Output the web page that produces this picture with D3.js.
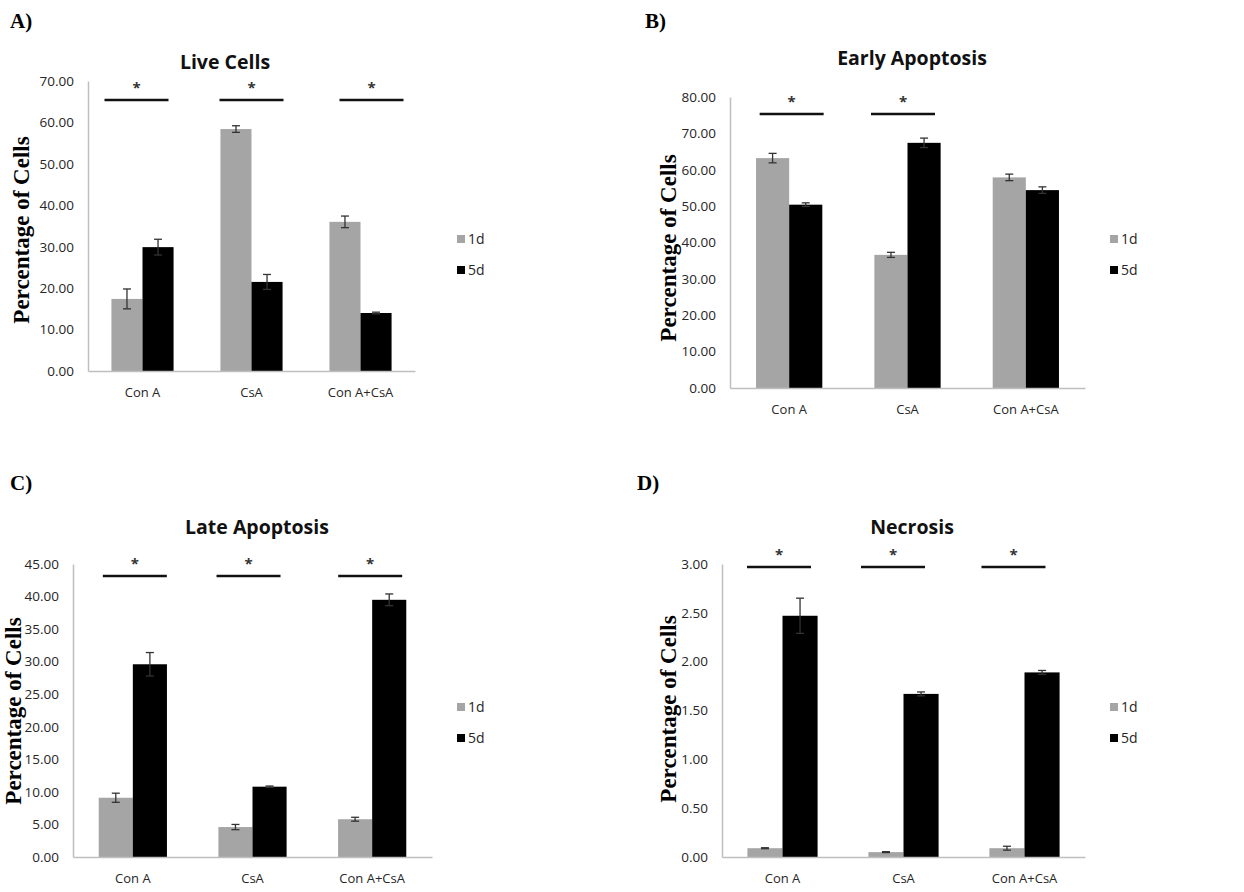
<!DOCTYPE html>
<html>
<head>
<meta charset="utf-8">
<script src="https://cdn.jsdelivr.net/npm/d3@7"></script>
<style>
  body { margin: 0; background: #fff; }
  svg { display: block; }
</style>
</head>
<body>
<svg id="chart" width="1244" height="892"></svg>
<script>
//////////////////////////////////////////////////////////////
///////////////////////// The data ///////////////////////////
//////////////////////////////////////////////////////////////

var categories = ["Con A", "CsA", "Con A+CsA"],
    seriesNames = ["1d", "5d"];

//Live cells
var live1d = [17.4, 58.4, 36.0],
    live1dErr = [2.4, 0.8, 1.4],
    live5d = [29.9, 21.5, 14.0],
    live5dErr = [1.9, 1.8, 0.2],
    liveSig = ["Con A", "CsA", "Con A+CsA"];

//Early apoptosis
var early1d = [63.2, 36.6, 57.9],
    early1dErr = [1.3, 0.7, 0.9],
    early5d = [50.4, 67.4, 54.4],
    early5dErr = [0.5, 1.3, 0.9],
    earlySig = ["Con A", "CsA"];

//Late apoptosis
var late1d = [9.1, 4.6, 5.8],
    late1dErr = [0.7, 0.4, 0.3],
    late5d = [29.6, 10.8, 39.5],
    late5dErr = [1.8, 0.1, 0.9],
    lateSig = ["Con A", "CsA", "Con A+CsA"];

//Necrosis
var necro1d = [0.09, 0.05, 0.09],
    necro1dErr = [0.005, 0.005, 0.02],
    necro5d = [2.47, 1.67, 1.89],
    necro5dErr = [0.18, 0.02, 0.02],
    necroSig = ["Con A", "CsA", "Con A+CsA"];

//////////////////////////////////////////////////////////////
/////////////////////// Panel layouts ////////////////////////
//////////////////////////////////////////////////////////////

var colors = {"1d": "#a5a5a5", "5d": "#000000"};

var panels = [
  {letter: "A)", title: "Live Cells", v1: live1d, e1: live1dErr, v2: live5d, e2: live5dErr, sig: liveSig,
   yMax: 70, yStep: 10, left: 88, right: 415, top: 81, bottom: 371, pad: 0.43,
   letterX: 10, letterY: 28, titleX: 225, titleY: 69, yTitleX: 29, yTitleY: 230, sigY: 100, sigShift: [-6, 0, 11],
   legX: 457, legY: 239},
  {letter: "B)", title: "Early Apoptosis", v1: early1d, e1: early1dErr, v2: early5d, e2: early5dErr, sig: earlySig,
   yMax: 80, yStep: 10, left: 730, right: 1085, top: 97, bottom: 388, pad: 0.44,
   letterX: 645, letterY: 28, titleX: 912, titleY: 65, yTitleX: 676, yTitleY: 248, sigY: 114, sigShift: [2.5, -4.5, 0],
   legX: 1110, legY: 239},
  {letter: "C)", title: "Late Apoptosis", v1: late1d, e1: late1dErr, v2: late5d, e2: late5dErr, sig: lateSig,
   yMax: 45, yStep: 5, left: 73, right: 432, top: 564, bottom: 857, pad: 0.43,
   letterX: 10, letterY: 490, titleX: 257, titleY: 534, yTitleX: 21, yTitleY: 711, sigY: 576, sigShift: [2, -4, -2],
   legX: 457, legY: 707},
  {letter: "D)", title: "Necrosis", v1: necro1d, e1: necro1dErr, v2: necro5d, e2: necro5dErr, sig: necroSig,
   yMax: 3, yStep: 0.5, left: 722, right: 1085, top: 564, bottom: 857, pad: 0.42,
   letterX: 637, letterY: 490, titleX: 912, titleY: 534, yTitleX: 676, yTitleY: 709, sigY: 567, sigShift: [-3.5, -10.5, -11],
   legX: 1110, legY: 707}
];

var svg = d3.select("#chart");
var sansFont = "'Open Sans', sans-serif",
    serifFont = "'Liberation Serif', 'Times New Roman', serif";

panels.forEach(function(p) {
  var g = svg.append("g").attr("class", "panel");

  var x = d3.scaleBand()
      .domain(categories)
      .range([p.left, p.right])
      .paddingInner(p.pad)
      .paddingOuter(p.pad / 2);

  var xSub = d3.scaleBand()
      .domain(seriesNames)
      .range([0, x.bandwidth()]);

  var y = d3.scaleLinear()
      .domain([0, p.yMax])
      .range([p.bottom, p.top]);

  //Rows of bar data
  var rows = [];
  categories.forEach(function(c, i) {
    rows.push({cat: c, s: "1d", v: p.v1[i], e: p.e1[i]});
    rows.push({cat: c, s: "5d", v: p.v2[i], e: p.e2[i]});
  });

  //Y axis
  var yTicks = d3.range(0, p.yMax + p.yStep / 2, p.yStep);
  var yAxis = g.append("g")
      .attr("transform", "translate(" + p.left + ",0)")
      .call(d3.axisLeft(y).tickValues(yTicks).tickSize(0).tickPadding(14).tickFormat(d3.format(".2f")));
  yAxis.select(".domain").attr("stroke", "#bfbfbf").attr("stroke-width", 1.5);
  yAxis.selectAll("text").style("font-family", sansFont).style("font-size", "13.5px").attr("fill", "#262626");

  //Bars
  g.selectAll(".bar")
    .data(rows)
    .enter().append("rect")
      .attr("class", "bar")
      .attr("x", function(d) { return x(d.cat) + xSub(d.s); })
      .attr("width", xSub.bandwidth())
      .attr("y", function(d) { return y(d.v); })
      .attr("height", function(d) { return y(0) - y(d.v); })
      .attr("fill", function(d) { return colors[d.s]; });

  //X axis (drawn over the bars' base)
  var xAxis = g.append("g")
      .attr("transform", "translate(0," + p.bottom + ")")
      .call(d3.axisBottom(x).tickSize(0).tickPadding(17));
  xAxis.select(".domain").attr("stroke", "#bfbfbf").attr("stroke-width", 1.5);
  xAxis.selectAll("text").style("font-family", sansFont).style("font-size", "13px").attr("fill", "#262626");

  //Error bars
  var eb = g.selectAll(".errbar")
    .data(rows)
    .enter().append("g")
      .attr("class", "errbar")
      .attr("transform", function(d) { return "translate(" + (x(d.cat) + xSub(d.s) + xSub.bandwidth() / 2) + ",0)"; });
  eb.append("line")
      .attr("y1", function(d) { return y(d.v + d.e); })
      .attr("y2", function(d) { return y(Math.max(0, d.v - d.e)); })
      .attr("stroke", "#333").attr("stroke-width", 1.3);
  eb.append("line")
      .attr("x1", -4).attr("x2", 4)
      .attr("y1", function(d) { return y(d.v + d.e); })
      .attr("y2", function(d) { return y(d.v + d.e); })
      .attr("stroke", "#333").attr("stroke-width", 1.3);
  eb.append("line")
      .attr("x1", -4).attr("x2", 4)
      .attr("y1", function(d) { return y(Math.max(0, d.v - d.e)); })
      .attr("y2", function(d) { return y(Math.max(0, d.v - d.e)); })
      .attr("stroke", "#333").attr("stroke-width", 1.3);

  //Significance lines and stars
  var sig = g.selectAll(".sig")
    .data(p.sig)
    .enter().append("g")
      .attr("class", "sig")
      .attr("transform", function(d) {
        var i = categories.indexOf(d);
        return "translate(" + (x(d) + x.bandwidth() / 2 + p.sigShift[i]) + "," + p.sigY + ")";
      });
  sig.append("line")
      .attr("x1", -32).attr("x2", 32)
      .attr("stroke", "#111").attr("stroke-width", 2.5);
  sig.append("text")
      .attr("y", -7)
      .attr("text-anchor", "middle")
      .style("font-family", sansFont)
      .style("font-size", "15px")
      .style("font-weight", "bold")
      .attr("fill", "#333")
      .text("*");

  //Title
  g.append("text")
      .attr("x", p.titleX).attr("y", p.titleY)
      .attr("text-anchor", "middle")
      .style("font-family", sansFont)
      .style("font-size", "19.5px")
      .style("font-weight", "bold")
      .attr("fill", "#111")
      .text(p.title);

  //Panel letter
  g.append("text")
      .attr("x", p.letterX).attr("y", p.letterY)
      .style("font-family", serifFont)
      .style("font-size", "21px")
      .style("font-weight", "bold")
      .attr("fill", "#000")
      .text(p.letter);

  //Y axis title
  g.append("text")
      .attr("transform", "translate(" + p.yTitleX + "," + p.yTitleY + ") rotate(-90)")
      .attr("text-anchor", "middle")
      .style("font-family", serifFont)
      .style("font-size", "23px")
      .style("font-weight", "bold")
      .attr("fill", "#000")
      .text("Percentage of Cells");

  //Legend
  var leg = g.selectAll(".legend")
    .data(seriesNames)
    .enter().append("g")
      .attr("class", "legend")
      .attr("transform", function(d, i) { return "translate(" + p.legX + "," + (p.legY + i * 31) + ")"; });
  leg.append("rect")
      .attr("x", 0).attr("y", -4)
      .attr("width", 8).attr("height", 8)
      .attr("fill", function(d) { return colors[d]; });
  leg.append("text")
      .attr("x", 11).attr("dy", "0.35em")
      .style("font-family", sansFont)
      .style("font-size", "14px")
      .attr("fill", "#262626")
      .text(function(d) { return d; });
});
</script>
</body>
</html>
